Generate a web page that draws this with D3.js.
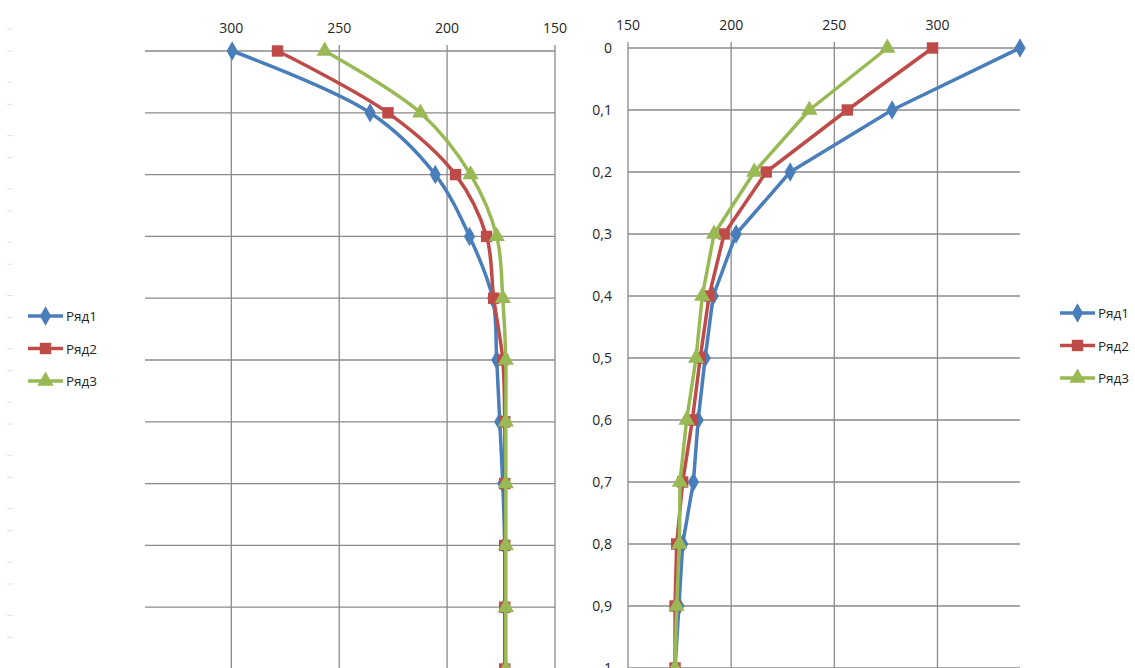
<!DOCTYPE html>
<html>
<head>
<meta charset="utf-8">
<script src="https://cdnjs.cloudflare.com/ajax/libs/d3/7.8.5/d3.min.js"></script>
<style>
  html, body { margin: 0; padding: 0; background: #ffffff; }
  svg { display: block; }
  text { font-family: "Open Sans", "Noto Sans", sans-serif; fill: #262626; }
</style>
</head>
<body>
<script>
// ---- data ----
const depth = [0, 0.1, 0.2, 0.3, 0.4, 0.5, 0.6, 0.7, 0.8, 0.9, 1];
const depthLabels = ["0", "0,1", "0,2", "0,3", "0,4", "0,5", "0,6", "0,7", "0,8", "0,9", "1"];
const seriesNames = ["Ряд1", "Ряд2", "Ряд3"];
const xTicks = [150, 200, 250, 300];

const leftR1 = [299.6, 235.7, 205.5, 189.6, 178.9, 177.0, 175.6, 174.2, 173.3, 173.3, 173.3];
const leftR2 = [278.6, 227.4, 196.1, 181.7, 178.4, 174.2, 173.3, 173.3, 173.3, 173.3, 173.3];
const leftR3 = [256.7, 212.4, 189.1, 177.0, 174.2, 172.8, 172.8, 172.8, 172.8, 172.8, 172.8];

const rightR1 = [340.0, 278.0, 228.6, 202.4, 191.3, 187.4, 184.0, 181.7, 176.5, 174.7, 172.8];
const rightR2 = [297.6, 256.3, 217.0, 196.6, 189.3, 185.0, 181.2, 176.5, 173.6, 172.8, 172.8];
const rightR3 = [275.7, 237.9, 211.2, 191.7, 186.0, 183.0, 178.4, 175.2, 174.9, 173.6, 172.8];

// ---- styles ----
const colors = ["#4A7EBB", "#BE4B48", "#98B954"];
const markers = [d3.symbolDiamond, d3.symbolSquare, d3.symbolTriangle];
const markerSizes = [110, 130, 115];
const gridColor = "#8a8a8a";

const W = 1135, H = 668;
const svg = d3.select("body").append("svg").attr("width", W).attr("height", H);

// faint marks along the left edge
const edge = svg.append("g");
for (let y = 29; y < H; y += 53.3) {
  [0, 22].forEach(o => {
    edge.append("line").attr("x1", 7).attr("x2", 13)
      .attr("y1", y + o).attr("y2", y + o)
      .attr("stroke", "#e2e2e2").attr("stroke-width", 1);
  });
}

function drawChart(cfg) {
  const x = d3.scaleLinear().domain([150, 340]).range(cfg.xRange);
  const y = d3.scaleLinear().domain([0, 1]).range(cfg.yRange);
  const g = svg.append("g");

  // horizontal grid
  g.append("g").selectAll("line").data(depth).join("line")
    .attr("x1", d3.min(cfg.xRange)).attr("x2", d3.max(cfg.xRange))
    .attr("y1", d => y(d)).attr("y2", d => y(d))
    .attr("stroke", gridColor).attr("stroke-width", 1.3);

  // vertical grid
  g.append("g").selectAll("line").data(xTicks).join("line")
    .attr("x1", d => x(d)).attr("x2", d => x(d))
    .attr("y1", cfg.yRange[0] - 6).attr("y2", cfg.yRange[1] + 2)
    .attr("stroke", gridColor).attr("stroke-width", 1.3);

  // top axis labels
  g.append("g").selectAll("text").data(xTicks).join("text")
    .attr("x", d => x(d)).attr("y", cfg.yRange[0] - 18)
    .attr("text-anchor", "middle").attr("font-size", 14)
    .text(d => d);

  if (cfg.yLabels) {
    g.append("g").selectAll("text").data(depth).join("text")
      .attr("x", cfg.yLabelX).attr("y", d => y(d) + 5)
      .attr("text-anchor", "end").attr("font-size", 14)
      .text((d, i) => depthLabels[i]);
  }

  const line = d3.line().x(d => x(d[0])).y(d => y(d[1])).curve(cfg.curve);

  cfg.series.forEach((vals, si) => {
    const pts = vals.map((v, i) => [v, depth[i]]);
    g.append("path").datum(pts)
      .attr("d", line).attr("fill", "none")
      .attr("stroke", colors[si]).attr("stroke-width", 3.5)
      .attr("stroke-linejoin", "round");
    g.append("g").selectAll("path").data(pts).join("path")
      .attr("transform", d => `translate(${x(d[0])},${y(d[1])})`)
      .attr("d", d3.symbol().type(markers[si]).size(markerSizes[si]))
      .attr("fill", colors[si]);
  });

  // legend
  const lg = g.append("g");
  seriesNames.forEach((name, si) => {
    const ly = cfg.legendY + si * 32.5;
    lg.append("line").attr("x1", cfg.legendX).attr("x2", cfg.legendX + 35)
      .attr("y1", ly).attr("y2", ly)
      .attr("stroke", colors[si]).attr("stroke-width", 3.5);
    lg.append("path").attr("transform", `translate(${cfg.legendX + 17.5},${ly})`)
      .attr("d", d3.symbol().type(markers[si]).size(markerSizes[si]))
      .attr("fill", colors[si]);
    lg.append("text").attr("x", cfg.legendX + 38).attr("y", ly + 5)
      .attr("font-size", 13.5).text(name);
  });
}

drawChart({
  xRange: [555, 145], yRange: [51, 669],
  series: [leftR1, leftR2, leftR3],
  curve: d3.curveCatmullRom.alpha(0.5),
  yLabels: false,
  legendX: 28, legendY: 316
});

drawChart({
  xRange: [628, 1020], yRange: [48, 668],
  series: [rightR1, rightR2, rightR3],
  curve: d3.curveLinear,
  yLabels: true, yLabelX: 612,
  legendX: 1060, legendY: 313
});
</script>
</body>
</html>
